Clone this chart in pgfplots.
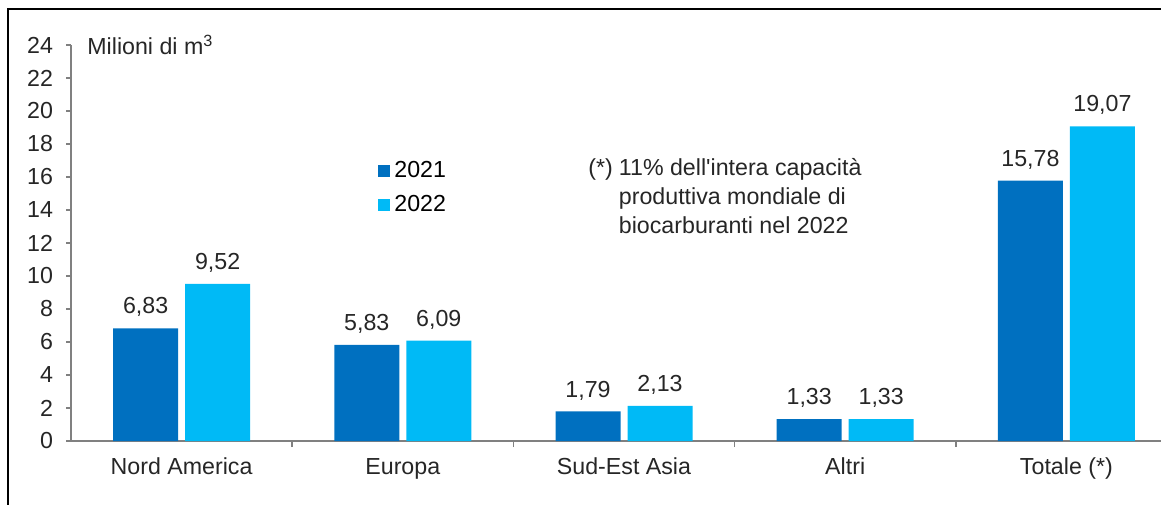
\documentclass[border=0pt]{standalone}
\usepackage{fontspec}
\setmainfont{Liberation Sans}
\usepackage{pgfplots}
\pgfplotsset{compat=1.18}
\definecolor{c21}{RGB}{0,112,192}
\definecolor{c22}{RGB}{0,186,246}
\definecolor{axgray}{RGB}{128,128,128}
\newcommand{\lbl}{\fontsize{11.6}{14.5}\selectfont}
\begin{document}
\begin{tikzpicture}
\useasboundingbox (0,0) rectangle (580.5pt,252pt);
\clip (0,0) rectangle (580.5pt,252pt);
\draw[line width=1pt] (4pt,-10pt) -- (4pt,247.5pt) -- (600pt,247.5pt);
\begin{axis}[
  at={(35.5pt,31.5pt)}, anchor=south west,
  scale only axis, width=553pt, height=198pt,
  xmin=-0.5, xmax=4.5, ymin=0, ymax=24,
  clip=false,
  ybar=3.5pt, bar width=32.5pt,
  axis x line*=bottom, axis y line*=left,
  axis line style={axgray, line width=0.8pt},
  tick align=outside,
  tick style={axgray, line width=0.8pt},
  major tick length=2.5pt, minor tick length=3pt,
  ytick={0,2,...,24},
  xtick={0,1,2,3,4},
  xticklabels={Nord America, Europa, Sud-Est Asia, Altri, Totale (*)},
  major x tick style={draw=none},
  minor xtick={0.5,1.5,2.5,3.5},
  tick label style={font=\lbl, text=black!85},
  yticklabel style={xshift=-3pt},
  xticklabel style={yshift=-2.5pt},
  /pgf/number format/assume math mode=true,
  nodes near coords={\pgfmathprintnumber[fixed,fixed zerofill,precision=2,use comma,assume math mode=true]{\pgfplotspointmeta}},
  every node near coord/.append style={font=\lbl, text=black!85, anchor=south, inner sep=0pt, text depth=0pt, yshift=7pt},
  legend style={draw=none, fill=none, at={(rel axis cs:0.2776,0.639)}, anchor=west, font=\lbl, inner sep=0pt, row sep=3.5pt, cells={anchor=west, inner sep=1pt}},
]
\addplot[fill=c21, draw=none, legend image code/.code={\fill[c21] (0pt,-3pt) rectangle (6pt,3pt);}]
  coordinates {(0,6.83) (1,5.83) (2,1.79) (3,1.33) (4,15.78)};
\addplot[fill=c22, draw=none, legend image code/.code={\fill[c22] (0pt,-3pt) rectangle (6pt,3pt);}]
  coordinates {(0,9.52) (1,6.09) (2,2.13) (3,1.33) (4,19.07)};
\legend{2021,2022}
\node[anchor=west, font=\lbl, text=black!85, inner sep=0pt] at (rel axis cs:0,1) [xshift=8pt] {Milioni di m\textsuperscript{3}};
\node[anchor=north west, font=\lbl, text=black!85, inner sep=0pt, align=left] at (rel axis cs:0.4675,0.722)
  {\begin{tabular}{@{}l@{\hspace{3pt}}l@{}}(*) & 11\% dell\textquotesingle intera capacità\\ & produttiva mondiale di\\ & biocarburanti nel 2022\end{tabular}};
\end{axis}
\end{tikzpicture}
\end{document}
